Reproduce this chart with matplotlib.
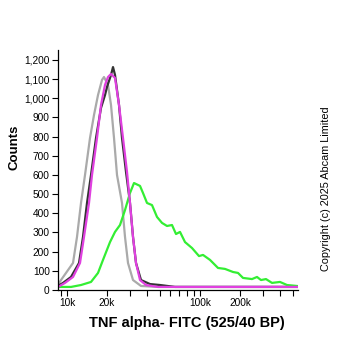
import matplotlib.pyplot as plt
from matplotlib.ticker import FixedLocator

# x: fluorescence intensity (FITC), y: counts
gray_x = [8557, 9013, 9828, 11095, 11890, 12743, 13657, 14891, 15959, 17104,
          18330, 18976, 20337, 21422, 22564, 23767, 25915, 27296, 28750, 31350,
          36010, 48330, 540000]
gray_y = [26, 52, 89, 141, 277, 454, 600, 793, 913, 1017,
          1096, 1111, 1070, 965, 793, 600, 454, 277, 141, 52,
          21, 16, 16]

dark_x = [8557, 9331, 10717, 12309, 13192, 14138, 15152, 16522, 18016, 19308,
          19988, 21422, 22177, 22958, 24605, 25915, 27773, 29764, 31350, 33022,
          36010, 42082, 50037, 64873, 540000]
dark_y = [21, 37, 68, 141, 277, 454, 600, 793, 950, 1017,
          1059, 1122, 1163, 1122, 965, 793, 616, 454, 277, 141,
          52, 31, 26, 16, 16]

mag_x = [8557, 9660, 11095, 12524, 13422, 14636, 15416, 16810, 18016, 19308,
         20337, 21422, 22958, 24605, 26367, 28257, 29764, 31350, 33022, 35392,
         39265, 48330, 540000]
mag_y = [16, 37, 68, 141, 277, 454, 600, 793, 965, 1070,
         1111, 1127, 1106, 965, 793, 616, 454, 277, 141, 52,
         26, 16, 16]

green_x = [8557, 10717, 12743, 15152, 17104, 18651, 21054, 22958, 25033, 27296,
           29764, 31897, 35392, 37277, 39952, 43563, 47505, 51795, 56478, 61588,
           66002, 70738, 77138, 87068, 98288, 105340, 118910, 136570, 154170, 177060,
           193090, 210550, 246040, 268300, 287500, 313500, 347800, 399500, 451000, 536200]
green_y = [16, 16, 26, 42, 89, 157, 250, 303, 339, 417,
           506, 558, 543, 506, 454, 443, 381, 350, 334, 339,
           292, 303, 250, 219, 177, 183, 157, 115, 110, 94,
           89, 63, 57, 68, 52, 57, 37, 42, 26, 21]

x_major = [10000, 20000, 100000, 200000]
x_major_labels = ["10k", "20k", "100k", "200k"]
x_minor = [9000, 30000, 40000, 50000, 60000, 70000, 80000, 90000,
           300000, 400000, 500000]
y_ticks = list(range(0, 1300, 100))

plt.rcParams['font.family'] = ['Liberation Sans', 'DejaVu Sans']

fig = plt.figure(figsize=(3.62, 3.51), dpi=100)
ax = fig.add_axes([58 / 362, 61 / 351, 240 / 362, 240 / 351])

ax.plot(gray_x, gray_y, color='#aaaaaa', lw=1.6)
ax.plot(dark_x, dark_y, color='#333333', lw=1.6)
ax.plot(green_x, green_y, color='#33ee33', lw=1.6)
ax.plot(mag_x, mag_y, color='#e040e0', lw=1.6)

ax.set_xscale('log')
ax.set_xlim(8556, 545600)
ax.set_ylim(0, 1252)

ax.xaxis.set_major_locator(FixedLocator(x_major))
ax.xaxis.set_minor_locator(FixedLocator(x_minor))
ax.set_xticklabels(x_major_labels)
ax.set_yticks(y_ticks)
ax.set_yticklabels([f"{v:,}" for v in y_ticks])

ax.tick_params(axis='both', which='both', length=4, width=0.8, labelsize=7.3, pad=2)

for s in ['top', 'right']:
    ax.spines[s].set_visible(False)
for s in ['left', 'bottom']:
    ax.spines[s].set_linewidth(0.9)

ax.set_xlabel("TNF alpha- FITC (525/40 BP)", fontsize=10.5, fontweight='bold')
ax.xaxis.set_label_coords((186.5 - 58) / 240, -(323 - 290) / 240)
ax.xaxis.label.set_va('center')

fig.text(15 / 362, 1 - 147 / 351, "Counts", rotation=90, ha='center', va='center',
         fontsize=9.5, fontweight='bold')

fig.text(326 / 362, 1 - 188.5 / 351, "Copyright (c) 2025 Abcam Limited",
         rotation=90, ha='center', va='center', fontsize=7.8)

fig.savefig("out.png", dpi=100)
